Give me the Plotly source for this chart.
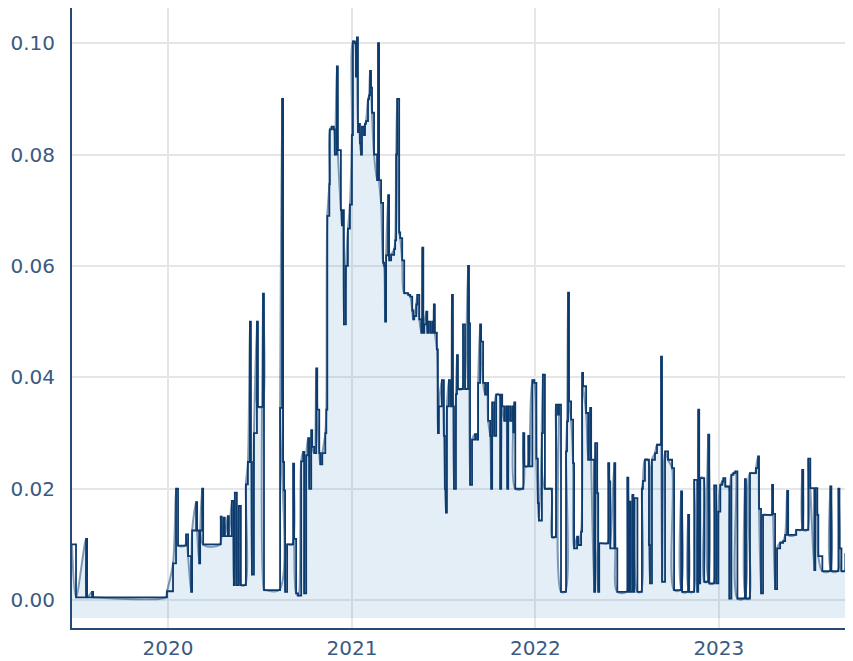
import plotly.graph_objects as go

# ---- data, split by year ----
dates_2019 = ["2019-06-24", "2019-07-02", "2019-07-22", "2019-07-24", "2019-08-03", "2019-08-05",
              "2019-08-07", "2019-12-27", "2019-12-30"]
values_2019 = [0.0100, 0.0005, 0.0110, 0.0005, 0.0015, 0.0005,
               0.0005, 0.0005, 0.0016]

dates_2020 = [
    "2020-01-11", "2020-01-17", "2020-01-21", "2020-02-04", "2020-02-06", "2020-02-10",
    "2020-02-16", "2020-02-18", "2020-02-26", "2020-02-28", "2020-03-03", "2020-03-05",
    "2020-03-09", "2020-03-11", "2020-04-13", "2020-04-15", "2020-04-17", "2020-04-21",
    "2020-04-23", "2020-04-29", "2020-05-01", "2020-05-07", "2020-05-11", "2020-05-13",
    "2020-05-17", "2020-05-21", "2020-05-25", "2020-06-02", "2020-06-04", "2020-06-08",
    "2020-06-12", "2020-06-14", "2020-06-16", "2020-06-20", "2020-06-26", "2020-06-28",
    "2020-07-06", "2020-07-08", "2020-07-10", "2020-07-12", "2020-08-09", "2020-08-11",
    "2020-08-15", "2020-08-17", "2020-08-19", "2020-08-21", "2020-08-25", "2020-09-04",
    "2020-09-06", "2020-09-08", "2020-09-12", "2020-09-16", "2020-09-22", "2020-09-26",
    "2020-09-28", "2020-10-02", "2020-10-06", "2020-10-08", "2020-10-12", "2020-10-14",
    "2020-10-18", "2020-10-22", "2020-10-24", "2020-10-28", "2020-10-30", "2020-11-03",
    "2020-11-09", "2020-11-11", "2020-11-13", "2020-11-17", "2020-11-18", "2020-11-22",
    "2020-11-26", "2020-11-28", "2020-12-02", "2020-12-04", "2020-12-10", "2020-12-12",
    "2020-12-14", "2020-12-16", "2020-12-20", "2020-12-24", "2020-12-28",
]
values_2020 = [
    0.0066, 0.0200, 0.0098, 0.0098, 0.0118, 0.0079,
    0.0015, 0.0125, 0.0176, 0.0125, 0.0066, 0.0125,
    0.0200, 0.0100, 0.0100, 0.0150, 0.0115, 0.0148,
    0.0115, 0.0151, 0.0115, 0.0178, 0.0027, 0.0193,
    0.0027, 0.0169, 0.0027, 0.0027, 0.0208, 0.0248,
    0.0500, 0.0248, 0.0046, 0.0300, 0.0500, 0.0347,
    0.0347, 0.0550, 0.0018, 0.0018, 0.0018, 0.0345,
    0.0900, 0.0248, 0.0197, 0.0015, 0.0100, 0.0100,
    0.0245, 0.0110, 0.0012, 0.0008, 0.0249, 0.0266,
    0.0012, 0.0260, 0.0291, 0.0200, 0.0305, 0.0275,
    0.0264, 0.0416, 0.0342, 0.0264, 0.0244, 0.0264,
    0.0300, 0.0342, 0.0690, 0.0747, 0.0845, 0.0850,
    0.0845, 0.0800, 0.0958, 0.0808, 0.0700, 0.0673,
    0.0700, 0.0495, 0.0600, 0.0667, 0.0710,
]

dates_2021 = [
    "2021-01-01", "2021-01-03", "2021-01-07", "2021-01-09", "2021-01-11", "2021-01-13",
    "2021-01-15", "2021-01-17", "2021-01-19", "2021-01-21", "2021-01-25", "2021-01-27",
    "2021-01-29", "2021-02-02", "2021-02-04", "2021-02-06", "2021-02-08", "2021-02-10",
    "2021-02-14", "2021-02-20", "2021-02-22", "2021-02-24", "2021-02-28", "2021-03-04",
    "2021-03-06", "2021-03-08", "2021-03-10", "2021-03-14", "2021-03-16", "2021-03-20",
    "2021-03-26", "2021-03-28", "2021-03-30", "2021-04-01", "2021-04-05", "2021-04-07",
    "2021-04-11", "2021-04-15", "2021-04-21", "2021-04-23", "2021-04-27", "2021-05-01",
    "2021-05-03", "2021-05-05", "2021-05-09", "2021-05-11", "2021-05-15", "2021-05-19",
    "2021-05-21", "2021-05-23", "2021-05-25", "2021-05-29", "2021-05-31", "2021-06-02",
    "2021-06-06", "2021-06-10", "2021-06-12", "2021-06-13", "2021-06-15", "2021-06-19",
    "2021-06-21", "2021-06-23", "2021-06-29", "2021-07-03", "2021-07-05", "2021-07-07",
    "2021-07-09", "2021-07-13", "2021-07-17", "2021-07-19", "2021-07-21", "2021-07-23",
    "2021-07-27", "2021-07-29", "2021-07-31", "2021-08-08", "2021-08-10", "2021-08-14",
    "2021-08-20", "2021-08-22", "2021-08-24", "2021-08-28", "2021-09-03", "2021-09-07",
    "2021-09-09", "2021-09-13", "2021-09-15", "2021-09-19", "2021-09-23", "2021-09-27",
    "2021-09-29", "2021-10-03", "2021-10-05", "2021-10-07", "2021-10-11", "2021-10-15",
    "2021-10-21", "2021-10-23", "2021-10-25", "2021-10-27", "2021-10-31", "2021-11-04",
    "2021-11-06", "2021-11-08", "2021-11-12", "2021-11-16", "2021-11-18", "2021-11-20",
    "2021-11-22", "2021-12-06", "2021-12-08", "2021-12-10", "2021-12-16", "2021-12-18",
    "2021-12-20", "2021-12-26", "2021-12-30",
]
values_2021 = [
    0.0835, 0.1003, 0.1000, 0.0940, 0.1010, 0.0840,
    0.0855, 0.0820, 0.0800, 0.0850, 0.0835, 0.0855,
    0.0860, 0.0899, 0.0906, 0.0950, 0.0920, 0.0875,
    0.0800, 0.0754, 0.1000, 0.0754, 0.0713, 0.0606,
    0.0600, 0.0500, 0.0619, 0.0727, 0.0610, 0.0620,
    0.0630, 0.0646, 0.0800, 0.0900, 0.0660, 0.0650,
    0.0610, 0.0551, 0.0551, 0.0548, 0.0545, 0.0520,
    0.0504, 0.0510, 0.0531, 0.0548, 0.0504, 0.0480,
    0.0633, 0.0480, 0.0495, 0.0518, 0.0480, 0.0500,
    0.0480, 0.0500, 0.0480, 0.0531, 0.0480, 0.0450,
    0.0300, 0.0348, 0.0395, 0.0295, 0.0200, 0.0157,
    0.0348, 0.0395, 0.0348, 0.0548, 0.0348, 0.0200,
    0.0370, 0.0440, 0.0379, 0.0379, 0.0495, 0.0379,
    0.0600, 0.0497, 0.0207, 0.0288, 0.0298, 0.0288,
    0.0390, 0.0495, 0.0464, 0.0390, 0.0369, 0.0390,
    0.0322, 0.0295, 0.0200, 0.0355, 0.0295, 0.0369,
    0.0369, 0.0200, 0.0369, 0.0348, 0.0322, 0.0348,
    0.0200, 0.0348, 0.0322, 0.0348, 0.0301, 0.0355,
    0.0200, 0.0200, 0.0300, 0.0240, 0.0240, 0.0295,
    0.0240, 0.0395, 0.0390,
]

dates_2022 = [
    "2022-01-03", "2022-01-06", "2022-01-08", "2022-01-14", "2022-01-16", "2022-01-20",
    "2022-02-01", "2022-02-03", "2022-02-09", "2022-02-11", "2022-02-15", "2022-02-17",
    "2022-02-21", "2022-03-01", "2022-03-03", "2022-03-05", "2022-03-07", "2022-03-09",
    "2022-03-13", "2022-03-17", "2022-03-19", "2022-03-25", "2022-03-27", "2022-04-02",
    "2022-04-04", "2022-04-06", "2022-04-12", "2022-04-16", "2022-04-20", "2022-04-22",
    "2022-04-28", "2022-04-30", "2022-05-04", "2022-05-06", "2022-05-08", "2022-05-24",
    "2022-05-26", "2022-05-28", "2022-05-30", "2022-06-07", "2022-06-09", "2022-06-13",
    "2022-07-01", "2022-07-03", "2022-07-05", "2022-07-07", "2022-07-09", "2022-07-13",
    "2022-07-15", "2022-07-17", "2022-07-23", "2022-07-30", "2022-08-01", "2022-08-03",
    "2022-08-07", "2022-08-13", "2022-08-15", "2022-08-17", "2022-08-21", "2022-08-27",
    "2022-08-31", "2022-09-06", "2022-09-08", "2022-09-10", "2022-09-16", "2022-09-22",
    "2022-09-30", "2022-10-04", "2022-10-16", "2022-10-18", "2022-10-20", "2022-10-30",
    "2022-11-01", "2022-11-03", "2022-11-11", "2022-11-13", "2022-11-19", "2022-11-21",
    "2022-11-23", "2022-11-25", "2022-12-01", "2022-12-03", "2022-12-09", "2022-12-11",
    "2022-12-13", "2022-12-21", "2022-12-23", "2022-12-27", "2022-12-31",
]
values_2022 = [
    0.0254, 0.0174, 0.0143, 0.0300, 0.0405, 0.0200,
    0.0200, 0.0113, 0.0113, 0.0351, 0.0333, 0.0351,
    0.0015, 0.0015, 0.0267, 0.0321, 0.0552, 0.0357,
    0.0324, 0.0246, 0.0093, 0.0114, 0.0099, 0.0123,
    0.0408, 0.0384, 0.0336, 0.0252, 0.0345, 0.0252,
    0.0015, 0.0282, 0.0192, 0.0015, 0.0102, 0.0102,
    0.0246, 0.0213, 0.0093, 0.0246, 0.0093, 0.0015,
    0.0015, 0.0220, 0.0015, 0.0177, 0.0015, 0.0189,
    0.0015, 0.0183, 0.0015, 0.0015, 0.0200, 0.0214,
    0.0252, 0.0252, 0.0099, 0.0030, 0.0252, 0.0264,
    0.0279, 0.0279, 0.0437, 0.0033, 0.0267, 0.0252,
    0.0237, 0.0018, 0.0018, 0.0195, 0.0015, 0.0015,
    0.0153, 0.0015, 0.0015, 0.0216, 0.0015, 0.0342,
    0.0030, 0.0219, 0.0219, 0.0033, 0.0033, 0.0297,
    0.0030, 0.0030, 0.0206, 0.0030, 0.0159,
]

dates_2023 = [
    "2023-01-04", "2023-01-08", "2023-01-10", "2023-01-14", "2023-01-20", "2023-01-22",
    "2023-01-26", "2023-01-30", "2023-02-03", "2023-02-07", "2023-02-20", "2023-02-22",
    "2023-02-24", "2023-03-02", "2023-03-04", "2023-03-14", "2023-03-16", "2023-03-20",
    "2023-03-22", "2023-03-26", "2023-03-30", "2023-04-15", "2023-04-17", "2023-04-19",
    "2023-04-23", "2023-04-27", "2023-05-03", "2023-05-09", "2023-05-13", "2023-05-17",
    "2023-05-19", "2023-06-02", "2023-06-04", "2023-06-14", "2023-06-16", "2023-06-18",
    "2023-06-26", "2023-06-28", "2023-07-02", "2023-07-10", "2023-07-12", "2023-07-16",
    "2023-07-18", "2023-07-26", "2023-08-09", "2023-08-11", "2023-08-13", "2023-08-25",
    "2023-08-27", "2023-08-29", "2023-09-02", "2023-09-08", "2023-09-10", "2023-09-12",
    "2023-09-14", "2023-09-16",
]
values_2023 = [
    0.0207, 0.0213, 0.0219, 0.0204, 0.0204, 0.0003,
    0.0225, 0.0228, 0.0231, 0.0003, 0.0003, 0.0217,
    0.0003, 0.0003, 0.0228, 0.0228, 0.0237, 0.0258,
    0.0164, 0.0012, 0.0153, 0.0153, 0.0207, 0.0155,
    0.0020, 0.0093, 0.0103, 0.0106, 0.0117, 0.0196,
    0.0117, 0.0117, 0.0126, 0.0126, 0.0234, 0.0126,
    0.0126, 0.0254, 0.0201, 0.0054, 0.0201, 0.0153,
    0.0079, 0.0052, 0.0052, 0.0204, 0.0052, 0.0052,
    0.0200, 0.0093, 0.0052, 0.0052, 0.0083, 0.0009,
    0.0090, 0.0090,
]

fill_base = -0.0032
y_ticks = [0.00, 0.02, 0.04, 0.06, 0.08, 0.10]
x_range = ["2019-06-24", "2023-09-19"]
y_range = [-0.005, 0.1063]

dates = dates_2019 + dates_2020 + dates_2021 + dates_2022 + dates_2023
values = values_2019 + values_2020 + values_2021 + values_2022 + values_2023

fig = go.Figure()
fig.add_trace(go.Scatter(
    x=dates, y=[fill_base] * len(dates), mode="lines",
    line=dict(width=0, color="rgba(0,0,0,0)"), hoverinfo="skip", showlegend=False,
))
fig.add_trace(go.Scatter(
    x=dates, y=values, mode="lines", fill="tonexty",
    fillcolor="rgba(66,139,202,0.15)",
    line=dict(color="rgba(13,59,110,0.5)", width=2, shape="spline", smoothing=0.9),
    showlegend=False,
))
fig.add_trace(go.Scatter(
    x=dates, y=values, mode="lines",
    line=dict(color="#0d3b6e", width=1.8, shape="hv"),
    showlegend=False,
))

# the page body keeps an 8px margin, so the figure is sized to fit the window
font_family = "Verdana, DejaVu Sans, sans-serif"
fig.update_layout(
    width=845, height=653,
    margin=dict(l=64, r=3, t=0, b=33),
    paper_bgcolor="white", plot_bgcolor="white",
    font=dict(family=font_family, size=20, color="#3a5a82"),
    showlegend=False,
)
fig.update_xaxes(
    type="date", range=x_range, tickformat="%Y", dtick="M12", tick0="2020-01-01",
    showgrid=True, gridcolor="#e6e6e6", gridwidth=1.5,
    showline=True, linecolor="#244a75", linewidth=2,
    ticks="", ticklabelstandoff=1, zeroline=False, automargin=False,
)
fig.update_yaxes(
    range=y_range, tickvals=y_ticks, tickformat=".2f",
    showgrid=True, gridcolor="#e6e6e6", gridwidth=1.5,
    showline=True, linecolor="#244a75", linewidth=2,
    ticks="", ticklabelstandoff=11, zeroline=False, automargin=False,
)

fig.write_html("out.html")
